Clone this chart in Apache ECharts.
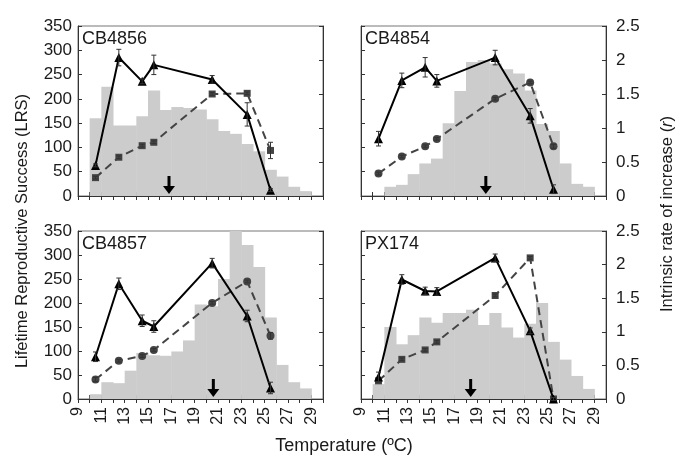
<!DOCTYPE html>
<html><head><meta charset="utf-8">
<script src="https://cdn.jsdelivr.net/npm/echarts@6/dist/echarts.min.js"></script>
<style>html,body{margin:0;padding:0;background:#fff}#c{width:685px;height:463px}</style>
</head><body><div id="c"></div>
<script>
// ---------------- data ----------------
const strains = ['CB4856', 'CB4854', 'CB4857', 'PX174'];
const temps = [10.5, 12.5, 14.5, 15.5, 20.5, 23.5, 25.5];
const xTicks = [9, 11, 13, 15, 17, 19, 21, 23, 25, 27, 29];

const lrs_CB4856 = [63, 285, 236, 270, 240, 168, 12];
const lrsErr_CB4856 = [3, 17, 5, 20, 8, 24, 3];
const r_CB4856 = [0.27, 0.57, 0.74, 0.79, 1.50, 1.51, 0.67];
const rErr_CB4856 = [0.02, 0.02, 0.02, 0.02, 0.02, 0.02, 0.12];
const histStart_CB4856 = 10;
const hist_CB4856 = [160, 225, 145, 145, 164, 217, 177, 183, 181, 178, 158, 134, 128, 107, 92, 54, 40, 19, 10];

const lrs_CB4854 = [118, 238, 265, 237, 285, 165, 14];
const lrsErr_CB4854 = [15, 15, 20, 13, 15, 15, 9];
const r_CB4854 = [0.33, 0.58, 0.73, 0.84, 1.43, 1.67, 0.73];
const rErr_CB4854 = [0.02, 0.02, 0.02, 0.02, 0.02, 0.02, 0.03];
const histStart_CB4854 = 11;
const hist_CB4854 = [19, 23, 45, 67, 77, 150, 216, 276, 280, 273, 261, 252, 217, 148, 134, 67, 25, 19];

const lrs_CB4857 = [88, 240, 163, 151, 283, 173, 23];
const lrsErr_CB4857 = [10, 12, 12, 12, 10, 12, 12];
const r_CB4857 = [0.29, 0.57, 0.64, 0.73, 1.43, 1.75, 0.94];
const rErr_CB4857 = [0.03, 0.02, 0.02, 0.02, 0.02, 0.02, 0.05];
const histStart_CB4857 = 10;
const hist_CB4857 = [10, 35, 33, 59, 96, 91, 90, 99, 122, 197, 193, 250, 365, 321, 275, 170, 71, 35, 22];

const lrs_PX174 = [46, 249, 225, 224, 294, 142, 0];
const lrsErr_PX174 = [10, 10, 8, 8, 8, 6, 3];
const r_PX174 = [0.27, 0.59, 0.73, 0.85, 1.54, 2.10, 0];
const rErr_PX174 = [0.02, 0.02, 0.02, 0.02, 0.02, 0.02, 0.02];
const histStart_PX174 = 10;
const hist_PX174 = [31, 150, 114, 133, 170, 159, 179, 179, 186, 154, 179, 149, 128, 157, 200, 119, 82, 48, 21];

const arrowTemps = [16.8, 19.7, 20.6, 18.4];

// ---------------- assembly ----------------
const panels = [
  {lrs: lrs_CB4856, lrsErr: lrsErr_CB4856, r: r_CB4856, rErr: rErr_CB4856, hs: histStart_CB4856, hist: hist_CB4856, sym: 'rect'},
  {lrs: lrs_CB4854, lrsErr: lrsErr_CB4854, r: r_CB4854, rErr: rErr_CB4854, hs: histStart_CB4854, hist: hist_CB4854, sym: 'circle'},
  {lrs: lrs_CB4857, lrsErr: lrsErr_CB4857, r: r_CB4857, rErr: rErr_CB4857, hs: histStart_CB4857, hist: hist_CB4857, sym: 'circle'},
  {lrs: lrs_PX174, lrsErr: lrsErr_PX174, r: r_PX174, rErr: rErr_PX174, hs: histStart_PX174, hist: hist_PX174, sym: 'rect'}
];

const FONT = "'Liberation Sans', Arial, sans-serif";
const TXT = '#1a1a1a';
const gridBoxes = [
  {left: 78, top: 26, width: 245, height: 170},
  {left: 361, top: 26, width: 245, height: 170},
  {left: 78, top: 231, width: 245, height: 168},
  {left: 361, top: 231, width: 245, height: 168}
];

const grid = gridBoxes.map(g => Object.assign({show: true, borderColor: '#777', borderWidth: 1, backgroundColor: 'transparent', outerBoundsMode: 'none'}, g));
const xAxis = [], yAxis = [], series = [], title = [];

gridBoxes.forEach((g, i) => {
  const bottomRow = i >= 2;
  xAxis.push({
    type: 'value', gridIndex: i, min: 9, max: 30, interval: 1,
    axisLine: {show: true, lineStyle: {color: '#333', width: 1}},
    axisTick: {show: true, inside: false, length: 4, lineStyle: {color: '#333'}},
    splitLine: {show: false},
    axisLabel: {
      show: bottomRow, rotate: 90, margin: 8, fontSize: 16, color: TXT,
      fontFamily: "'Liberation Sans Narrow', 'Liberation Sans', Arial, sans-serif",
      showMinLabel: true, showMaxLabel: true,
      formatter: v => (xTicks.indexOf(v) >= 0 ? String(v) : '')
    }
  });
  xAxis.push({
    type: 'value', gridIndex: i, min: 9, max: 30, interval: 1, position: 'bottom',
    axisLine: {show: false}, axisLabel: {show: false}, splitLine: {show: false},
    axisTick: {show: true, inside: true, length: 4, lineStyle: {color: '#333'}}
  });
  const leftCol = (i % 2) === 0;
  yAxis.push({
    type: 'value', gridIndex: i, position: 'left', min: 0, max: 350, interval: 50,
    axisLine: {show: true, lineStyle: {color: '#333'}},
    axisTick: {show: true, inside: true, length: 4, lineStyle: {color: '#333'}},
    splitLine: {show: false},
    axisLabel: {show: leftCol, fontSize: 17, color: TXT, fontFamily: FONT, margin: 6}
  });
  yAxis.push({
    type: 'value', gridIndex: i, position: 'right', min: 0, max: 2.5, interval: 0.5,
    axisLine: {show: true, lineStyle: {color: '#333'}},
    axisTick: {show: true, inside: true, length: 4, lineStyle: {color: '#333'}},
    splitLine: {show: false},
    axisLabel: {show: !leftCol, fontSize: 17, color: TXT, fontFamily: FONT, margin: 10}
  });
});

function errRender(params, api) {
  const x = api.value(0);
  const lo = api.coord([x, api.value(1)]);
  const hi = api.coord([x, api.value(2)]);
  const w = 2.5;
  const st = {stroke: '#333', lineWidth: 1};
  return {type: 'group', children: [
    {type: 'line', shape: {x1: lo[0], y1: lo[1], x2: hi[0], y2: hi[1]}, style: st},
    {type: 'line', shape: {x1: hi[0] - w, y1: hi[1], x2: hi[0] + w, y2: hi[1]}, style: st},
    {type: 'line', shape: {x1: lo[0] - w, y1: lo[1], x2: lo[0] + w, y2: lo[1]}, style: st}
  ]};
}

panels.forEach((p, i) => {
  const xi = i * 2, yl = i * 2, yr = i * 2 + 1;
  series.push({
    type: 'custom', xAxisIndex: xi, yAxisIndex: yl, clip: true, silent: true, z: 1,
    data: p.hist.map((v, k) => [p.hs + k, v]),
    encode: {x: 0, y: 1},
    renderItem: (params, api) => {
      const x = api.value(0), v = api.value(1);
      const a = api.coord([x, v]);
      const b = api.coord([x + 1, 0]);
      return {type: 'rect', shape: {x: a[0], y: a[1], width: b[0] - a[0] + 0.5, height: b[1] - a[1]},
        style: {fill: '#cccccc'}};
    }
  });
  series.push({
    type: 'custom', xAxisIndex: xi, yAxisIndex: yl, silent: true, z: 6,
    data: [[arrowTemps[i], 0]],
    encode: {x: 0, y: 1},
    renderItem: (params, api) => {
      const t = api.coord([api.value(0), api.value(1)]);
      const tipY = t[1] - 2;
      return {type: 'group', children: [
        {type: 'line', shape: {x1: t[0], y1: tipY - 18, x2: t[0], y2: tipY - 7}, style: {stroke: '#000', lineWidth: 3}},
        {type: 'polygon', shape: {points: [[t[0] - 6, tipY - 8], [t[0] + 6, tipY - 8], [t[0], tipY]]}, style: {fill: '#000'}}
      ]};
    }
  });
  series.push({
    type: 'line', xAxisIndex: xi, yAxisIndex: yr, z: 3,
    data: temps.map((t, k) => [t, p.r[k]]),
    lineStyle: {color: '#444', width: 2, type: [8, 5]},
    itemStyle: {color: '#444'},
    symbol: p.sym, symbolSize: p.sym === 'rect' ? 7 : 8, showSymbol: true
  });
  series.push({
    type: 'custom', xAxisIndex: xi, yAxisIndex: yr, z: 4, silent: true,
    data: temps.map((t, k) => [t, p.r[k] - p.rErr[k], p.r[k] + p.rErr[k]]),
    encode: {x: 0, y: [1, 2]},
    renderItem: errRender
  });
  series.push({
    type: 'line', xAxisIndex: xi, yAxisIndex: yl, z: 5,
    data: temps.map((t, k) => [t, p.lrs[k]]),
    lineStyle: {color: '#000', width: 2},
    itemStyle: {color: '#000'},
    symbol: 'triangle', symbolSize: 9, showSymbol: true
  });
  series.push({
    type: 'custom', xAxisIndex: xi, yAxisIndex: yl, z: 6, silent: true,
    data: temps.map((t, k) => [t, p.lrs[k] - p.lrsErr[k], p.lrs[k] + p.lrsErr[k]]),
    encode: {x: 0, y: [1, 2]},
    renderItem: errRender
  });
  title.push({
    text: strains[i], left: gridBoxes[i].left + 4, top: gridBoxes[i].top + 4, padding: 0,
    textStyle: {fontSize: 18, fontWeight: 'normal', color: TXT, fontFamily: FONT}
  });
});

const option = {
  animation: false,
  backgroundColor: '#fff',
  title, grid, xAxis, yAxis, series,
  graphic: [
    {type: 'text', x: 22, y: 231, rotation: Math.PI / 2,
      style: {text: 'Lifetime Reproductive Success (LRS)', fontSize: 16.5, fontFamily: FONT, fill: TXT, textAlign: 'center', textVerticalAlign: 'middle'}},
    {type: 'text', x: 667, y: 214, rotation: Math.PI / 2,
      style: {text: 'Intrinsic rate of increase ({i|r})', fontSize: 16.5, fontFamily: FONT, fill: TXT, textAlign: 'center', textVerticalAlign: 'middle',
        rich: {i: {fontStyle: 'italic', fontSize: 16.5, fontFamily: FONT, fill: TXT}}}},
    {type: 'text', x: 344, y: 446,
      style: {text: 'Temperature (ºC)', fontSize: 18, fontFamily: FONT, fill: TXT, textAlign: 'center', textVerticalAlign: 'middle'}}
  ]
};

const chart = echarts.init(document.getElementById('c'), null, {renderer: 'canvas', width: 685, height: 463});
chart.setOption(option);
</script></body></html>
